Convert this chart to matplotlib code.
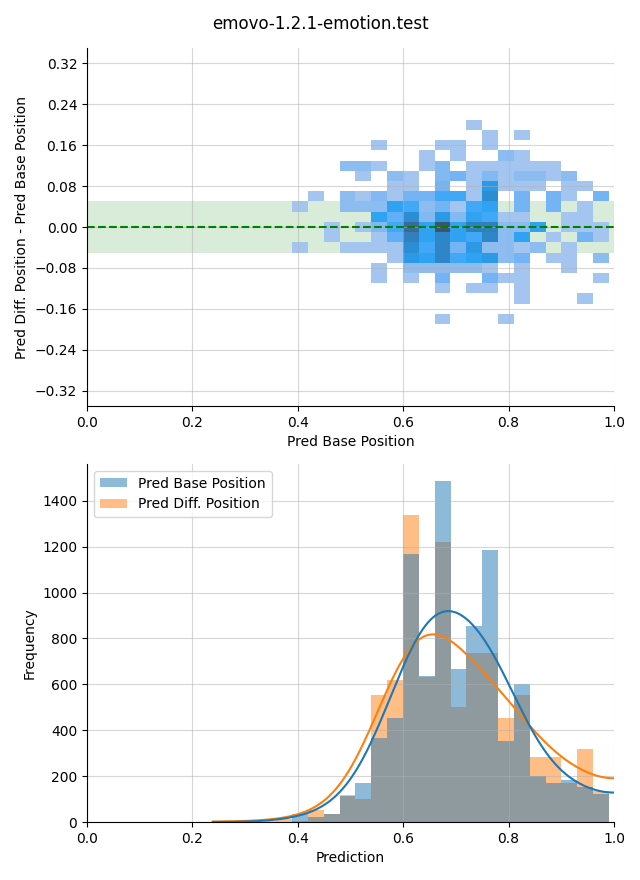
import numpy as np
import matplotlib
matplotlib.use("Agg")
import matplotlib.pyplot as plt
import matplotlib.colors as mcolors
from matplotlib.patches import Patch
from seaborn.external import husl

title = "emovo-1.2.1-emotion.test"

# ---------------- top panel: 2D histogram ----------------
heat_x_edges = np.linspace(0.389, 0.9905, 21)
heat_y_edges = np.linspace(-0.19, 0.21, 21)
# rows from top (y centre 0.20) to bottom (y centre -0.18), 20 columns each
heat_counts = [
    [0, 0, 0, 0, 0, 0, 0, 0, 0, 0, 0, 15, 0, 0, 0, 0, 0, 0, 0, 0],
    [0, 0, 0, 0, 0, 0, 0, 0, 0, 0, 0, 0, 15, 0, 15, 0, 0, 0, 0, 0],
    [0, 0, 0, 0, 0, 15, 0, 0, 0, 15, 15, 0, 15, 0, 0, 0, 0, 0, 0, 0],
    [0, 0, 0, 0, 0, 0, 0, 0, 15, 0, 15, 0, 0, 55, 15, 0, 0, 0, 0, 0],
    [0, 0, 0, 55, 55, 15, 0, 0, 15, 70, 0, 15, 15, 15, 15, 15, 15, 0, 0, 0],
    [0, 0, 0, 0, 15, 0, 55, 15, 0, 70, 90, 15, 70, 15, 55, 55, 15, 55, 0, 0],
    [0, 0, 0, 0, 0, 0, 15, 15, 0, 90, 0, 15, 205, 15, 15, 15, 0, 15, 15, 0],
    [0, 15, 0, 55, 15, 70, 15, 90, 90, 145, 145, 15, 250, 0, 90, 0, 90, 15, 0, 90],
    [15, 0, 0, 55, 55, 55, 170, 145, 55, 90, 15, 145, 170, 0, 90, 0, 90, 0, 15, 0],
    [0, 0, 0, 0, 0, 170, 115, 250, 70, 205, 70, 170, 145, 15, 15, 0, 0, 15, 15, 0],
    [0, 0, 15, 0, 15, 70, 145, 390, 170, 480, 170, 305, 305, 55, 55, 170, 0, 15, 15, 15],
    [0, 0, 15, 0, 0, 15, 115, 305, 170, 280, 170, 145, 280, 55, 170, 0, 15, 0, 90, 15],
    [15, 0, 0, 15, 15, 15, 15, 250, 145, 280, 90, 205, 55, 55, 15, 55, 0, 15, 0, 0],
    [0, 0, 0, 0, 0, 0, 15, 205, 170, 280, 145, 170, 205, 55, 90, 0, 15, 15, 0, 55],
    [0, 0, 0, 0, 0, 15, 0, 55, 55, 55, 55, 55, 15, 0, 15, 0, 0, 15, 0, 0],
    [0, 0, 0, 0, 0, 15, 0, 15, 0, 90, 0, 0, 90, 15, 15, 0, 0, 0, 0, 15],
    [0, 0, 0, 0, 0, 0, 0, 0, 0, 15, 0, 15, 15, 0, 15, 0, 0, 0, 0, 0],
    [0, 0, 0, 0, 0, 0, 0, 0, 0, 0, 0, 0, 0, 0, 15, 0, 0, 0, 15, 0],
    [0, 0, 0, 0, 0, 0, 0, 0, 0, 0, 0, 0, 0, 0, 0, 0, 0, 0, 0, 0],
    [0, 0, 0, 0, 0, 0, 0, 0, 0, 15, 0, 0, 0, 15, 0, 0, 0, 0, 0, 0],
]
band_low, band_high = -0.05, 0.05
top_yticks = [-0.32, -0.24, -0.16, -0.08, 0.0, 0.08, 0.16, 0.24, 0.32]

# ---------------- bottom panel: histograms ----------------
hist_edges = np.linspace(0.2386, 0.9906, 26)
base_counts = [0, 0, 0, 0, 0, 35, 20, 35, 115, 169, 367, 453, 1168, 636, 1486,
               665, 854, 1185, 354, 601, 200, 171, 183, 154, 120]
diff_counts = [5, 1, 2, 3, 12, 6, 52, 33, 118, 100, 553, 619, 1338, 634, 1221,
               502, 738, 735, 453, 553, 283, 283, 171, 318, 133]
series_labels = ["Pred Base Position", "Pred Diff. Position"]
kde_bandwidth = {"base": 0.057, "diff": 0.063}
upper_bound = 1.0  # predictions are bounded by 1 (reflection boundary)


def seaborn_cmap(color):
    r, g, b = mcolors.to_rgb(color)
    h, s, _ = husl.rgb_to_husl(r, g, b)
    xx = np.linspace(-1, 1, int(1.15 * 256))[:256]
    ramp = np.zeros((256, 3))
    ramp[:, 0] = h
    ramp[:, 1] = s * np.cos(xx)
    ramp[:, 2] = np.linspace(35, 80, 256)
    cols = np.clip([husl.husl_to_rgb(*hsl) for hsl in ramp], 0, 1)
    return mcolors.ListedColormap(cols[::-1])


def weighted_kde(edges, counts, bw, grid):
    centers = (edges[:-1] + edges[1:]) / 2
    w = np.asarray(counts, float)
    pdf = np.zeros_like(grid)
    for c, wi in zip(centers, w):
        pdf += wi * np.exp(-0.5 * ((grid - c) / bw) ** 2)
        pdf += wi * np.exp(-0.5 * ((grid - (2 * upper_bound - c)) / bw) ** 2)
    pdf /= (w.sum() * bw * np.sqrt(2 * np.pi))
    binw = edges[1] - edges[0]
    return pdf * w.sum() * binw


fig = plt.figure(figsize=(6.4, 8.8), dpi=100)
ax1 = fig.add_axes([87 / 640, 1 - 406 / 880, 527 / 640, 358 / 880])
ax2 = fig.add_axes([87 / 640, 1 - 822 / 880, 527 / 640, 358 / 880])
fig.suptitle(title, fontsize=12, y=0.983)

# top
counts = np.array(heat_counts, float)[::-1]
masked = np.ma.masked_less_equal(counts, 0)
ax1.axhspan(band_low, band_high, color="green", alpha=0.15, lw=0)
ax1.pcolormesh(heat_x_edges, heat_y_edges, masked, cmap=seaborn_cmap("C0"),
               vmin=0, vmax=counts.max())
ax1.axhline(0, color="green", linestyle="--", lw=1.5)
ax1.set_xlim(0, 1)
ax1.set_ylim(-0.35, 0.35)
ax1.set_yticks(top_yticks)
ax1.set_xticks([0, 0.2, 0.4, 0.6, 0.8, 1.0])
ax1.grid(True, alpha=0.5)
ax1.set_xlabel("Pred Base Position")
ax1.set_ylabel("Pred Diff. Position - Pred Base Position")
for s in ("top", "right"):
    ax1.spines[s].set_visible(False)

# bottom
widths = np.diff(hist_edges)
ax2.bar(hist_edges[:-1], diff_counts, width=widths, align="edge",
        color="C1", alpha=0.5, lw=0)
ax2.bar(hist_edges[:-1], base_counts, width=widths, align="edge",
        color="C0", alpha=0.5, lw=0)
grid = np.linspace(hist_edges[0], upper_bound, 500)
ax2.plot(grid, weighted_kde(hist_edges, diff_counts, kde_bandwidth["diff"], grid),
         color="C1", lw=1.5)
ax2.plot(grid, weighted_kde(hist_edges, base_counts, kde_bandwidth["base"], grid),
         color="C0", lw=1.5)
ax2.set_xlim(0, 1)
ax2.set_ylim(0, 1560)
ax2.set_xticks([0, 0.2, 0.4, 0.6, 0.8, 1.0])
ax2.grid(True, alpha=0.5)
ax2.set_xlabel("Prediction")
ax2.set_ylabel("Frequency")
for s in ("top", "right"):
    ax2.spines[s].set_visible(False)
handles = [Patch(facecolor="C0", alpha=0.5, lw=0),
           Patch(facecolor="C1", alpha=0.5, lw=0)]
ax2.legend(handles, series_labels, loc="upper left")

fig.savefig("out.png", dpi=100)
